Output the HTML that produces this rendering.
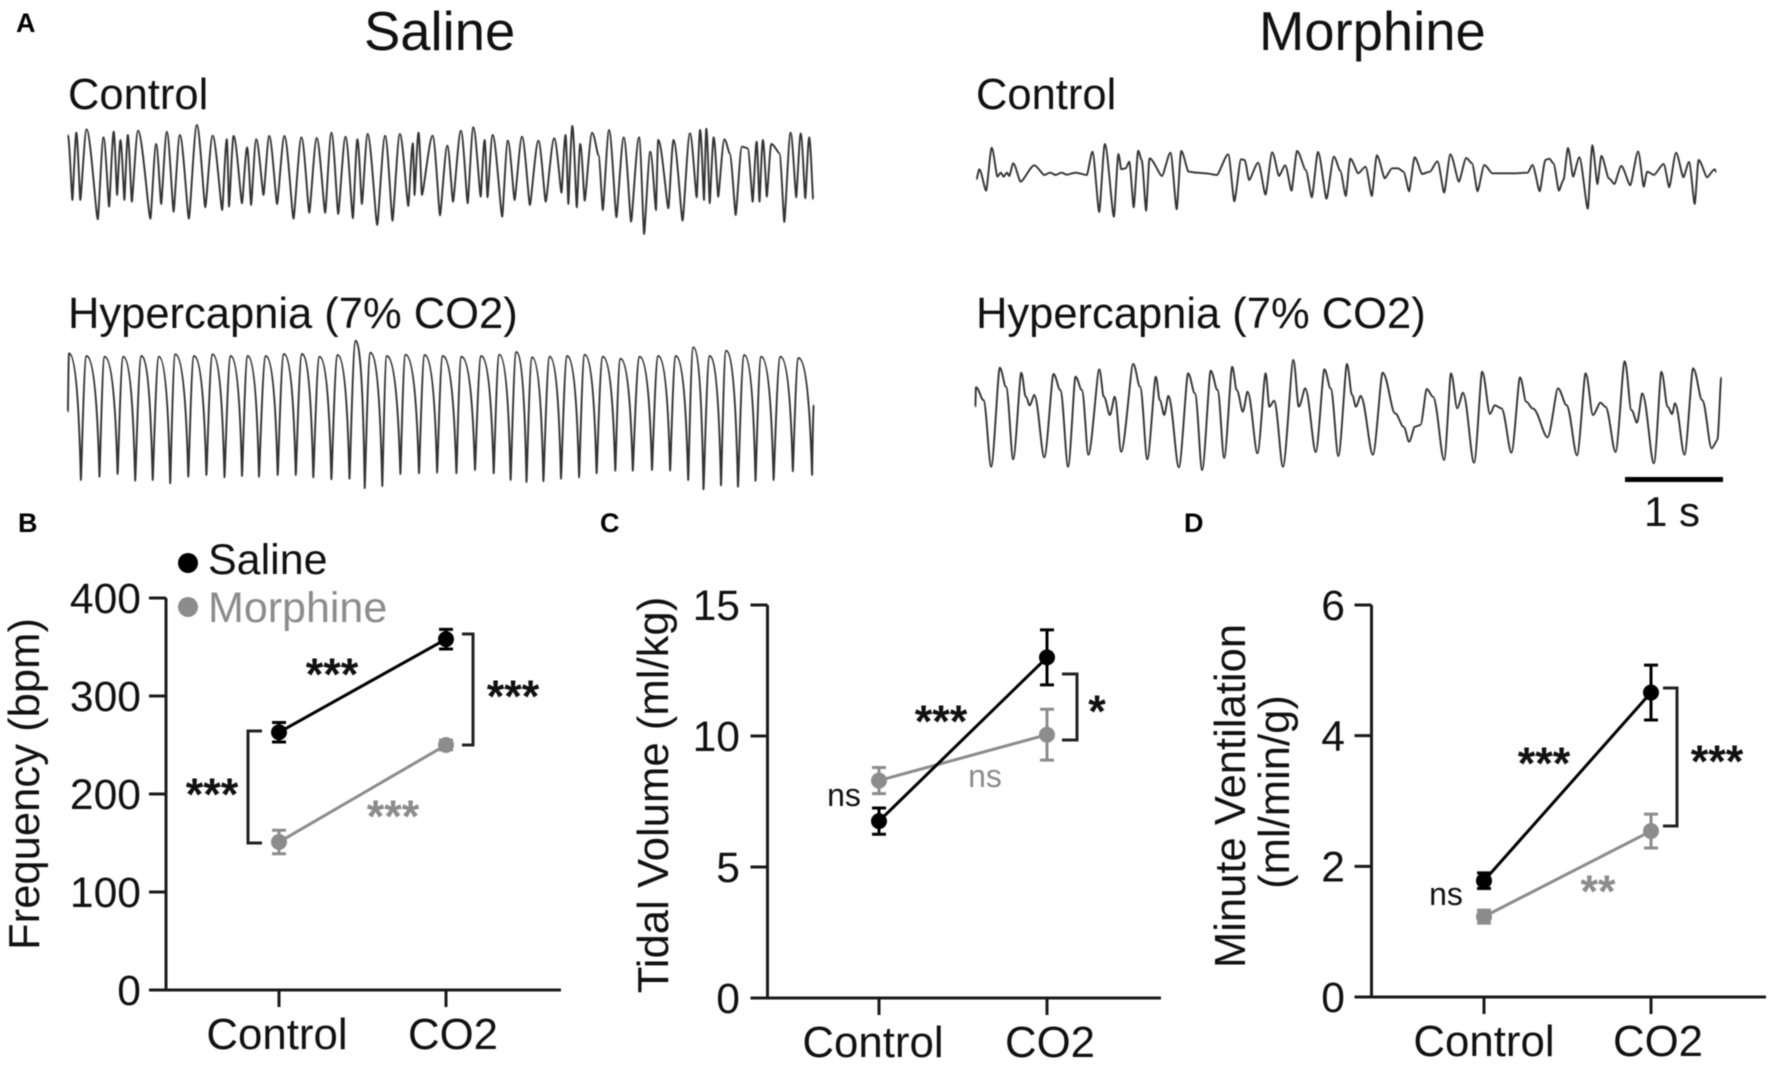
<!DOCTYPE html>
<html lang="en">
<head>
<meta charset="utf-8">
<title>Respiratory traces and ventilation panels</title>
<style>
html,body{margin:0;padding:0;background:#fff}
svg{display:block;filter:blur(0.45px)}
text{font-family:"Liberation Sans",Arial,sans-serif;fill:#111}
.title{font-size:54.4px}
.cond{font-size:43.5px}
.panel{font-size:27px;font-weight:bold;fill:#000}
.lab{font-size:42.6px}
.stars{font-size:45px;font-weight:bold;text-anchor:middle;fill:#111}
.ns{font-size:32px;text-anchor:middle}
.gray{fill:#8c8c8c}
</style>
</head>
<body>
<svg id="fig" xmlns="http://www.w3.org/2000/svg" width="1772" height="1065" viewBox="0 0 1772 1065">
  <rect width="1772" height="1065" fill="#fff"/>
  <text class="panel" x="16" y="32">A</text>
  <text class="panel" x="18" y="532">B</text>
  <text class="panel" x="600" y="532">C</text>
  <text class="panel" x="1184" y="532">D</text>
  <text class="title" x="364" y="50">Saline</text>
  <text class="title" x="1259" y="50">Morphine</text>
  <text class="cond" x="68" y="109">Control</text>
  <text class="cond" x="976" y="109">Control</text>
  <text class="cond" x="68" y="328">Hypercapnia (7% CO2)</text>
  <text class="cond" x="976" y="328">Hypercapnia (7% CO2)</text>
  <g id="traces"></g>
  <rect x="1625" y="477" width="98" height="5" fill="#000"/>
  <text x="1644" y="526" font-size="42">1 s</text>

  <g id="panel-b"></g>
  <g id="panel-c"></g>
  <g id="panel-d"></g>

  <circle cx="188" cy="563" r="10" fill="#000"/>
  <text class="lab" x="208" y="574" style="font-size:43px">Saline</text>
  <circle cx="188" cy="607" r="10" fill="#8c8c8c"/>
  <text class="lab gray" x="208" y="622" style="font-size:43px">Morphine</text>

  <text text-anchor="middle" transform="translate(39,784) rotate(-90)" style="font-size:43.6px">Frequency (bpm)</text>
  <text text-anchor="middle" transform="translate(668,795) rotate(-90)" style="font-size:43.7px">Tidal Volume (ml/kg)</text>
  <text text-anchor="middle" transform="translate(1245,796) rotate(-90)" style="font-size:43.6px">Minute Ventilation</text>
  <text text-anchor="middle" transform="translate(1289,792) rotate(-90)" style="font-size:43.6px">(ml/min/g)</text>

  <path d="M462 634H473V745H462" fill="none" stroke="#222" stroke-width="3"/>
  <path d="M262 731H248V843H262" fill="none" stroke="#222" stroke-width="3"/>
  <text class="stars" x="332" y="690">***</text>
  <text class="stars" x="513" y="712">***</text>
  <text class="stars" x="212" y="810">***</text>
  <text class="stars gray" x="393" y="832">***</text>

  <path d="M1062 674H1077V740H1062" fill="none" stroke="#222" stroke-width="3"/>
  <text class="stars" x="941" y="737">***</text>
  <text class="stars" x="1097" y="727">*</text>
  <text class="ns" x="844" y="806">ns</text>
  <text class="ns gray" x="985" y="787">ns</text>

  <path d="M1663 688H1677V826H1663" fill="none" stroke="#222" stroke-width="3"/>
  <text class="stars" x="1544" y="779">***</text>
  <text class="stars" x="1717" y="777">***</text>
  <text class="stars gray" x="1598" y="907">**</text>
  <text class="ns" x="1446" y="905">ns</text>
</svg>
<script>
// Panel data
const categories = ['Control', 'CO2'];
const freqTicks = [0, 100, 200, 300, 400];
const freqSaline = [263, 358];
const freqSalineErr = [10, 10];
const freqMorphine = [151, 250];
const freqMorphineErr = [12, 5];
const tidalTicks = [0, 5, 10, 15];
const tidalSaline = [6.75, 13];
const tidalSalineErr = [0.5, 1.05];
const tidalMorphine = [8.3, 10.05];
const tidalMorphineErr = [0.5, 0.97];
const ventTicks = [0, 2, 4, 6];
const ventSaline = [1.78, 4.66];
const ventSalineErr = [0.12, 0.42];
const ventMorphine = [1.23, 2.54];
const ventMorphineErr = [0.1, 0.26];

// Trace data: alternating sample index, downward deflection
const salineControlTrace = [120,405,128,600,135,398,142,600,153,388,173,658,183,412,193,620,201,395,207,585,213,420,220,600,226,405,233,605,244,392,266,656,276,432,285,612,295,395,307,635,318,405,334,656,348,375,363,622,376,407,393,630,401,418,405,620,413,408,428,610,437,442,444,615,453,418,466,585,476,408,490,612,503,408,519,656,533,412,547,638,560,414,575,638,586,398,598,642,611,410,624,655,632,418,640,612,650,402,667,675,681,407,694,662,707,402,722,618,730,430,733,585,740,398,746,585,765,407,778,646,791,437,801,605,815,392,827,610,837,382,850,590,857,420,862,592,871,405,888,650,898,422,910,600,923,410,937,615,952,422,965,605,980,415,993,578,1000,405,1005,612,1012,378,1020,622,1026,432,1034,602,1047,398,1058,465,1066,630,1077,390,1090,652,1103,412,1116,665,1130,412,1139,702,1150,455,1160,630,1164,420,1182,625,1191,420,1207,662,1220,400,1232,592,1238,390,1245,600,1249,386,1255,610,1262,412,1270,590,1281,418,1290,460,1301,645,1312,440,1322,445,1331,605,1338,425,1343,605,1349,420,1356,590,1364,432,1378,460,1387,666,1398,398,1408,592,1416,400,1424,595,1431,412,1438,598];
const salineHyperTrace = [120,455,122,280,143,660,153,288,176,650,185,290,208,642,218,290,239,662,250,288,270,660,281,290,301,670,310,283,333,650,343,288,365,645,376,283,397,652,408,288,428,648,438,288,458,650,470,288,491,645,502,282,523,645,534,282,554,652,565,290,586,658,597,285,618,656,629,242,645,684,655,278,676,678,684,288,708,642,717,284,741,640,751,285,773,638,783,288,807,640,816,290,840,630,851,288,873,640,883,284,903,660,913,276,931,666,941,292,961,664,972,290,992,656,1003,288,1024,652,1034,284,1055,640,1066,290,1088,632,1097,296,1119,632,1131,290,1153,630,1164,288,1185,632,1195,288,1217,660,1226,262,1244,688,1255,288,1275,676,1284,272,1305,680,1316,285,1336,662,1346,290,1368,660,1380,290,1402,634,1412,294,1436,645,1439,435];
const morphineControlTrace = [160,538,165,508,177,572,187,443,197,530,203,518,208,530,214,518,218,528,225,490,238,545,262,496,280,525,290,518,300,525,310,518,320,524,335,518,355,525,365,455,377,636,387,432,403,650,411,462,416,508,424,505,430,485,438,622,446,452,452,480,460,632,466,475,488,528,503,458,514,628,522,453,535,515,550,518,565,520,585,525,605,463,616,604,628,478,634,480,642,540,658,488,671,584,683,457,695,528,706,496,717,572,727,453,742,510,753,592,764,456,779,596,792,470,803,512,813,588,821,476,835,520,848,500,859,588,868,466,882,535,895,505,905,505,915,515,925,574,935,472,948,522,962,515,975,484,987,578,998,463,1013,545,1026,474,1036,490,1046,574,1058,495,1072,520,1090,520,1110,520,1135,518,1143,495,1156,574,1166,480,1173,476,1180,490,1190,572,1198,540,1206,444,1215,530,1226,472,1241,626,1249,436,1258,552,1265,468,1278,535,1288,552,1300,498,1316,556,1330,454,1340,560,1346,515,1358,525,1375,492,1385,562,1397,458,1410,532,1420,486,1430,612,1437,480,1452,532,1465,508,1468,516];
const morphineHyperTrace = [158,440,159,382,172,420,186,620,201,323,212,380,225,598,239,338,247,410,254,436,262,405,280,592,296,342,308,390,322,620,335,350,346,390,358,584,377,328,385,410,396,465,404,410,416,575,437,312,449,380,462,598,477,350,484,420,492,465,499,408,518,622,534,340,546,400,559,630,574,332,586,390,598,594,612,320,620,390,631,455,639,395,657,580,671,340,678,440,686,422,702,620,720,300,730,440,741,385,760,576,775,328,786,385,800,588,815,312,824,405,831,440,839,408,861,584,878,338,900,460,915,500,925,545,935,500,945,495,956,387,967,410,987,600,999,340,1010,445,1020,398,1040,608,1054,335,1068,462,1076,436,1088,445,1106,578,1121,352,1132,425,1143,445,1170,532,1188,385,1203,435,1222,586,1237,340,1250,465,1263,428,1272,440,1290,576,1306,304,1318,450,1328,488,1337,400,1358,610,1371,335,1382,440,1390,462,1395,430,1412,584,1427,325,1443,420,1460,565,1470,540,1477,352];

const SVGNS = 'http://www.w3.org/2000/svg';
function mk(tag, attrs, parent) {
  const el = document.createElementNS(SVGNS, tag);
  for (const k in attrs) el.setAttribute(k, attrs[k]);
  parent.appendChild(el);
  return el;
}

// Trace axes: sample index to px, deflection to px.
// fall/rise give the curve handles that shape downward and upward strokes.
function drawTrace(trace, x0, y0, name, fall, rise) {
  const xs = s => x0 + s * 0.5655;
  const ys = d => y0 + d / 3;
  const pts = [];
  for (let i = 0; i + 1 < trace.length; i += 2) pts.push([xs(trace[i]), ys(trace[i + 1])]);
  let d = 'M' + pts[0][0].toFixed(1) + ' ' + pts[0][1].toFixed(1);
  for (let i = 1; i < pts.length; i++) {
    const p = pts[i - 1], q = pts[i], w = q[0] - p[0];
    const h = q[1] > p[1] ? fall : rise;
    d += 'C' + (p[0] + w * h[0]).toFixed(1) + ' ' + p[1].toFixed(1) + ' ' + (q[0] - w * h[1]).toFixed(1) + ' ' + q[1].toFixed(1) + ' ' + q[0].toFixed(1) + ' ' + q[1].toFixed(1);
  }
  const el = mk('path', {d: d, fill: 'none', stroke: '#333', 'stroke-width': 1.9, 'stroke-linejoin': 'round'}, document.getElementById('traces'));
  
  
}
drawTrace(salineControlTrace, 0, 0, 'saline-control-trace', [0.35, 0.15], [0.15, 0.3]);
drawTrace(salineHyperTrace, 0, 260, 'saline-hypercapnia-trace', [0.85, 0.03], [0.08, 0.45]);
drawTrace(morphineControlTrace, 886, 0, 'morphine-control-trace', [0.3, 0.2], [0.2, 0.25]);
drawTrace(morphineHyperTrace, 886, 260, 'morphine-hypercapnia-trace', [0.4, 0.3], [0.3, 0.2]);

function drawPanel(id, L, ticks, series) {
  const g = document.getElementById(id);
  const yMax = ticks[ticks.length - 1];
  const y = v => L.y0 - (v / yMax) * (L.y0 - L.yTop);
  const x = i => L.xPos[i];
  const axis = {stroke: '#1a1a1a', 'stroke-width': 3, fill: 'none'};

  const yAxis = mk('path', Object.assign({d: 'M' + L.ax + ' ' + y(yMax) + 'V' + L.y0}, axis), g);
  
  
  const xAxis = mk('path', Object.assign({d: 'M' + (L.ax - 17) + ' ' + L.y0 + 'H' + L.axRight}, axis), g);
  
  

  ticks.forEach(function (t) {
    const tk = mk('path', Object.assign({d: 'M' + (L.ax - 17) + ' ' + y(t) + 'H' + L.ax}, axis), g);
    
    
    const lb = mk('text', {x: L.labX, y: y(t) + 15, 'text-anchor': 'end', 'class': 'lab'}, g);
    lb.textContent = String(t);
    
    
  });
  categories.forEach(function (c, i) {
    const tk = mk('path', Object.assign({d: 'M' + x(i) + ' ' + L.y0 + 'V' + (L.y0 + 17)}, axis), g);
    
    
    const lb = mk('text', {x: L.catX[i], y: L.catY, 'text-anchor': 'middle', 'class': 'lab', style: 'font-size:43.8px'}, g);
    lb.textContent = c;
    
    
  });

  series.forEach(function (s) {
    const line = mk('line', {x1: x(0), y1: y(s.vals[0]), x2: x(1), y2: y(s.vals[1]), stroke: s.color, 'stroke-width': 3}, g);
    
    
    s.vals.forEach(function (v, i) {
      const hi = y(v + s.errs[i]), lo = y(v - s.errs[i]), cx = x(i);
      const err = mk('path', {d: 'M' + (cx - 7) + ' ' + hi + 'H' + (cx + 7) + 'M' + cx + ' ' + hi + 'V' + lo + 'M' + (cx - 7) + ' ' + lo + 'H' + (cx + 7), stroke: s.color, 'stroke-width': 3, fill: 'none'}, g);
      
      
      const dot = mk('circle', {cx: cx, cy: y(v), r: 8, fill: s.color}, g);
      
      
    });
  });
}

drawPanel('panel-b', {ax: 166, axRight: 561, y0: 990, yTop: 598, xPos: [279, 446], labX: 141, catX: [277, 453], catY: 1049}, freqTicks, [
  {name: 'saline', color: '#000', vals: freqSaline, errs: freqSalineErr},
  {name: 'morphine', color: '#8c8c8c', vals: freqMorphine, errs: freqMorphineErr}
]);
drawPanel('panel-c', {ax: 767.5, axRight: 1161, y0: 998, yTop: 605, xPos: [879, 1047], labX: 740, catX: [873, 1050], catY: 1057}, tidalTicks, [
  {name: 'morphine', color: '#8c8c8c', vals: tidalMorphine, errs: tidalMorphineErr},
  {name: 'saline', color: '#000', vals: tidalSaline, errs: tidalSalineErr}
]);
drawPanel('panel-d', {ax: 1371.5, axRight: 1766, y0: 997, yTop: 605, xPos: [1484, 1651], labX: 1345, catX: [1484, 1658], catY: 1056}, ventTicks, [
  {name: 'morphine', color: '#8c8c8c', vals: ventMorphine, errs: ventMorphineErr},
  {name: 'saline', color: '#000', vals: ventSaline, errs: ventSalineErr}
]);
</script>
</body>
</html>
